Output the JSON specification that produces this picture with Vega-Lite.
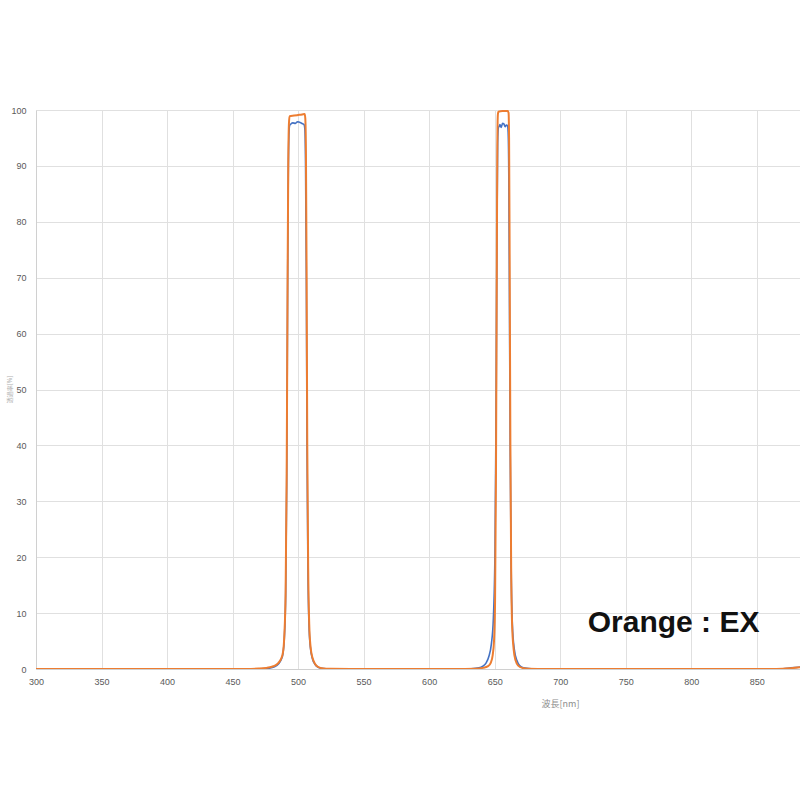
{
  "$schema": "https://vega.github.io/schema/vega-lite/v6.json",
  "autosize": "none",
  "width": 764,
  "height": 559,
  "padding": {"left": 36, "top": 110, "right": 0, "bottom": 131},
  "background": "white",
  "config": {
    "view": {"stroke": null},
    "axis": {
      "labelFont": "Liberation Sans",
      "labelFontSize": 9,
      "labelColor": "#595959",
      "titleFont": "Noto Sans CJK JP",
      "titleFontWeight": "normal",
      "titleColor": "#8c8c8c",
      "gridColor": "#e0e0e0",
      "gridWidth": 1,
      "domainColor": "#d0d0d0",
      "ticks": false
    }
  },
  "datasets": {
    "curves": [
      {"s": "blue", "wl": 300, "t": 0}, {"s": "blue", "wl": 460, "t": 0.01}, {"s": "blue", "wl": 472, "t": 0.05}, {"s": "blue", "wl": 478, "t": 0.15}, {"s": "blue", "wl": 482, "t": 0.4}, {"s": "blue", "wl": 485, "t": 0.9}, {"s": "blue", "wl": 487, "t": 1.6}, {"s": "blue", "wl": 488.5, "t": 2.8}, {"s": "blue", "wl": 489.5, "t": 5.5}, {"s": "blue", "wl": 490.5, "t": 13}, {"s": "blue", "wl": 491.3, "t": 33}, {"s": "blue", "wl": 492, "t": 68}, {"s": "blue", "wl": 492.5, "t": 88}, {"s": "blue", "wl": 493, "t": 95.5}, {"s": "blue", "wl": 493.5, "t": 97.2}, {"s": "blue", "wl": 494.5, "t": 97.5}, {"s": "blue", "wl": 496, "t": 97.7}, {"s": "blue", "wl": 498, "t": 97.6}, {"s": "blue", "wl": 499.5, "t": 97.9}, {"s": "blue", "wl": 501, "t": 97.8}, {"s": "blue", "wl": 503, "t": 97.6}, {"s": "blue", "wl": 504.5, "t": 97.4}, {"s": "blue", "wl": 505.2, "t": 96.5}, {"s": "blue", "wl": 505.7, "t": 90}, {"s": "blue", "wl": 506.3, "t": 70}, {"s": "blue", "wl": 506.8, "t": 40}, {"s": "blue", "wl": 507.5, "t": 18}, {"s": "blue", "wl": 508.3, "t": 8}, {"s": "blue", "wl": 509.3, "t": 4}, {"s": "blue", "wl": 511, "t": 1.8}, {"s": "blue", "wl": 513, "t": 0.8}, {"s": "blue", "wl": 515, "t": 0.35}, {"s": "blue", "wl": 518, "t": 0.12}, {"s": "blue", "wl": 525, "t": 0.02}, {"s": "blue", "wl": 540, "t": 0}, {"s": "blue", "wl": 620, "t": 0}, {"s": "blue", "wl": 632, "t": 0.05}, {"s": "blue", "wl": 638, "t": 0.2}, {"s": "blue", "wl": 641, "t": 0.5}, {"s": "blue", "wl": 643.5, "t": 1.1}, {"s": "blue", "wl": 645.5, "t": 2.2}, {"s": "blue", "wl": 647.5, "t": 4.5}, {"s": "blue", "wl": 649, "t": 9}, {"s": "blue", "wl": 650.3, "t": 22}, {"s": "blue", "wl": 651.2, "t": 50}, {"s": "blue", "wl": 651.8, "t": 80}, {"s": "blue", "wl": 652.3, "t": 94}, {"s": "blue", "wl": 652.8, "t": 96.8}, {"s": "blue", "wl": 653.5, "t": 97.1}, {"s": "blue", "wl": 654, "t": 97.4}, {"s": "blue", "wl": 655, "t": 96.9}, {"s": "blue", "wl": 656, "t": 97.6}, {"s": "blue", "wl": 657, "t": 97.5}, {"s": "blue", "wl": 658, "t": 97.0}, {"s": "blue", "wl": 659, "t": 97.3}, {"s": "blue", "wl": 659.8, "t": 97.2}, {"s": "blue", "wl": 660.3, "t": 96}, {"s": "blue", "wl": 660.8, "t": 88}, {"s": "blue", "wl": 661.3, "t": 65}, {"s": "blue", "wl": 661.9, "t": 38}, {"s": "blue", "wl": 662.6, "t": 18}, {"s": "blue", "wl": 663.5, "t": 8}, {"s": "blue", "wl": 665, "t": 3.5}, {"s": "blue", "wl": 667, "t": 1.5}, {"s": "blue", "wl": 669, "t": 0.6}, {"s": "blue", "wl": 672, "t": 0.2}, {"s": "blue", "wl": 678, "t": 0.05}, {"s": "blue", "wl": 690, "t": 0}, {"s": "blue", "wl": 860, "t": 0}, {"s": "blue", "wl": 870, "t": 0.05}, {"s": "blue", "wl": 876, "t": 0.2}, {"s": "blue", "wl": 883, "t": 0.35},
      {"s": "orange", "wl": 300, "t": 0}, {"s": "orange", "wl": 400, "t": 0}, {"s": "orange", "wl": 460, "t": 0.02}, {"s": "orange", "wl": 470, "t": 0.08}, {"s": "orange", "wl": 476, "t": 0.2}, {"s": "orange", "wl": 480, "t": 0.4}, {"s": "orange", "wl": 483, "t": 0.7}, {"s": "orange", "wl": 485, "t": 1.1}, {"s": "orange", "wl": 487, "t": 1.8}, {"s": "orange", "wl": 488.5, "t": 3}, {"s": "orange", "wl": 489.5, "t": 6}, {"s": "orange", "wl": 490.5, "t": 14}, {"s": "orange", "wl": 491.3, "t": 35}, {"s": "orange", "wl": 492, "t": 70}, {"s": "orange", "wl": 492.5, "t": 90}, {"s": "orange", "wl": 493, "t": 97.5}, {"s": "orange", "wl": 493.5, "t": 98.9}, {"s": "orange", "wl": 497, "t": 99.0}, {"s": "orange", "wl": 500, "t": 99.1}, {"s": "orange", "wl": 503, "t": 99.2}, {"s": "orange", "wl": 505, "t": 99.3}, {"s": "orange", "wl": 505.5, "t": 98.5}, {"s": "orange", "wl": 506, "t": 92}, {"s": "orange", "wl": 506.5, "t": 70}, {"s": "orange", "wl": 507, "t": 40}, {"s": "orange", "wl": 507.7, "t": 18}, {"s": "orange", "wl": 508.5, "t": 8}, {"s": "orange", "wl": 509.5, "t": 4}, {"s": "orange", "wl": 511, "t": 2}, {"s": "orange", "wl": 513, "t": 0.9}, {"s": "orange", "wl": 515, "t": 0.4}, {"s": "orange", "wl": 518, "t": 0.15}, {"s": "orange", "wl": 525, "t": 0.03}, {"s": "orange", "wl": 540, "t": 0}, {"s": "orange", "wl": 620, "t": 0}, {"s": "orange", "wl": 635, "t": 0.05}, {"s": "orange", "wl": 641, "t": 0.2}, {"s": "orange", "wl": 645, "t": 0.5}, {"s": "orange", "wl": 647, "t": 1.1}, {"s": "orange", "wl": 648.5, "t": 2.5}, {"s": "orange", "wl": 649.5, "t": 5}, {"s": "orange", "wl": 650.3, "t": 12}, {"s": "orange", "wl": 651, "t": 35}, {"s": "orange", "wl": 651.6, "t": 70}, {"s": "orange", "wl": 652, "t": 92}, {"s": "orange", "wl": 652.4, "t": 99}, {"s": "orange", "wl": 652.8, "t": 99.7}, {"s": "orange", "wl": 656, "t": 99.8}, {"s": "orange", "wl": 660, "t": 99.8}, {"s": "orange", "wl": 660.6, "t": 99.5}, {"s": "orange", "wl": 661, "t": 95}, {"s": "orange", "wl": 661.5, "t": 70}, {"s": "orange", "wl": 662, "t": 40}, {"s": "orange", "wl": 662.6, "t": 18}, {"s": "orange", "wl": 663.3, "t": 8}, {"s": "orange", "wl": 664.5, "t": 3.5}, {"s": "orange", "wl": 666, "t": 1.5}, {"s": "orange", "wl": 668, "t": 0.6}, {"s": "orange", "wl": 671, "t": 0.2}, {"s": "orange", "wl": 676, "t": 0.05}, {"s": "orange", "wl": 690, "t": 0}, {"s": "orange", "wl": 860, "t": 0}, {"s": "orange", "wl": 870, "t": 0.05}, {"s": "orange", "wl": 876, "t": 0.15}, {"s": "orange", "wl": 883, "t": 0.3}
    ],
    "label": [{"wl": 721, "t": 8.3, "text": "Orange : EX"}]
  },
  "layer": [
    {
      "data": {"name": "curves"},
      "transform": [{"filter": "datum.s === 'blue'"}],
      "mark": {"type": "line", "color": "#4472C4", "strokeWidth": 1.6, "clip": true, "interpolate": "monotone"},
      "encoding": {
        "x": {
          "field": "wl", "type": "quantitative",
          "scale": {"domain": [300, 883], "nice": false, "zero": false},
          "axis": {
            "values": [300, 350, 400, 450, 500, 550, 600, 650, 700, 750, 800, 850],
            "title": "波長[nm]",
            "titleFontSize": 9,
            "titleX": 524,
            "titleY": 30,
            "titleAnchor": null,
            "titleAlign": "center",
            "labelPadding": 8,
            "labelFlush": false,
            "grid": true
          }
        },
        "y": {
          "field": "t", "type": "quantitative",
          "scale": {"domain": [0, 100], "nice": false},
          "axis": {
            "values": [0, 10, 20, 30, 40, 50, 60, 70, 80, 90, 100],
            "title": "透過率[%]",
            "titleFontSize": 6,
            "titleColor": "#b0b0b0",
            "titleX": -27,
            "titleY": 279,
            "titleAngle": -90,
            "titleAlign": "center",
            "titleBaseline": "middle",
            "labelPadding": 10,
            "grid": true
          }
        }
      }
    },
    {
      "data": {"name": "curves"},
      "transform": [{"filter": "datum.s === 'orange'"}],
      "mark": {"type": "line", "color": "#ED7D31", "strokeWidth": 2, "clip": true, "interpolate": "monotone"},
      "encoding": {
        "x": {"field": "wl", "type": "quantitative"},
        "y": {"field": "t", "type": "quantitative"}
      }
    },
    {
      "data": {"name": "label"},
      "mark": {"type": "text", "align": "left", "baseline": "middle", "font": "Liberation Sans", "fontWeight": "bold", "fontSize": 30, "color": "#111111"},
      "encoding": {
        "x": {"field": "wl", "type": "quantitative"},
        "y": {"field": "t", "type": "quantitative"},
        "text": {"field": "text"}
      }
    }
  ]
}
